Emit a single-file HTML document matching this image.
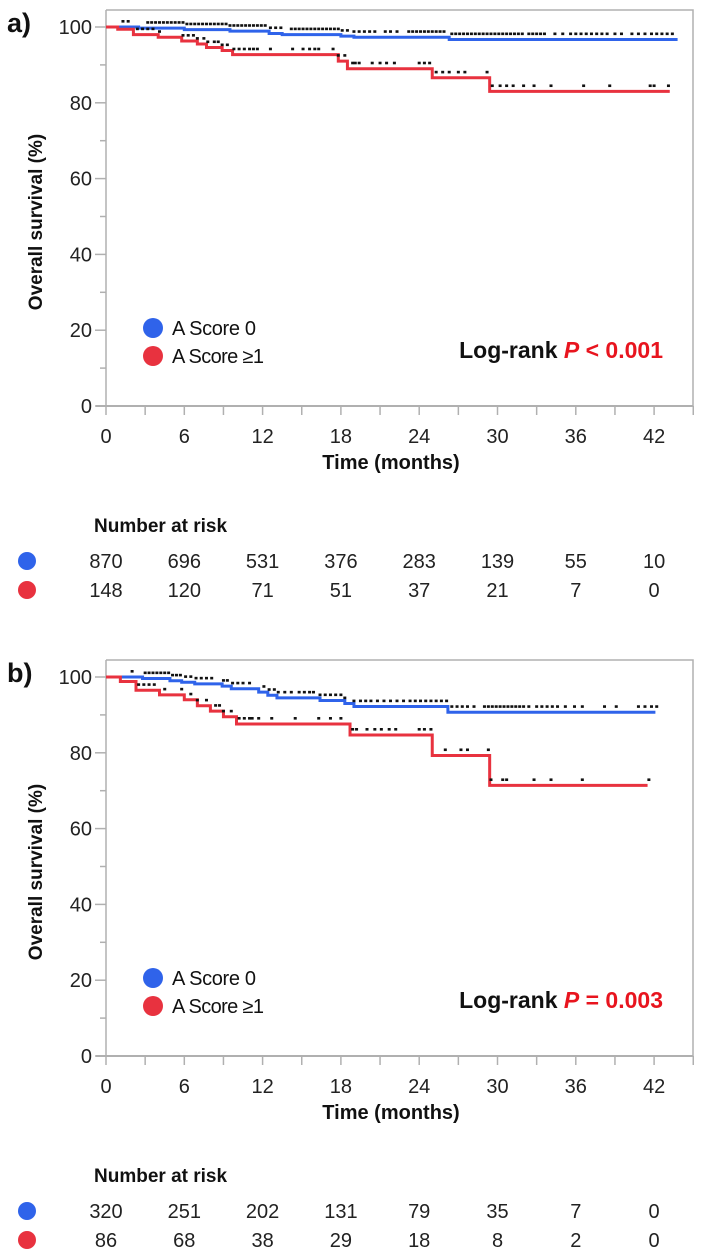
<!DOCTYPE html>
<html><head><meta charset="utf-8">
<style>
html,body{margin:0;padding:0;background:#fff;}
svg{display:block;font-family:"Liberation Sans",Arial,sans-serif;}
.nar{font-family:"Liberation Sans Narrow","Liberation Sans",Arial,sans-serif;}
</style></head>
<body>
<svg id="chart" width="708" height="1252" viewBox="0 0 708 1252" xmlns="http://www.w3.org/2000/svg"></svg>
<script>
// ---------- data ----------
const xTicks = [0, 6, 12, 18, 24, 30, 36, 42];
const yTicks = [0, 20, 40, 60, 80, 100];

// Panel a
const aBlueT = [0, 2.5, 6, 9.5, 12.5, 13.5, 18, 19, 26.3, 43.8];
const aBlueS = [100, 99.7, 99.3, 98.9, 98.3, 98, 97.6, 97.3, 96.7, 96.7];
const aRedT = [0, 0.9, 2.1, 4, 5.8, 7, 7.7, 8.9, 9.7, 17.8, 18.5, 25, 29.4, 43.2];
const aRedS = [100, 99.4, 98, 97.3, 96.3, 95.5, 94.6, 93.8, 92.7, 91, 89, 86.6, 83, 83];
const aBlueCens = [1.3,1.7,3.2,3.5,3.8,4.1,4.4,4.7,5.0,5.3,5.6,5.9,6.2,6.5,6.8,7.1,7.4,7.7,8.0,8.3,8.6,8.9,9.2,9.5,9.8,10.1,10.4,10.7,11.0,11.3,11.6,11.9,12.2,12.6,13.0,13.4,14.2,14.5,14.8,15.1,15.4,15.7,16.0,16.3,16.6,16.9,17.2,17.5,17.8,18.1,18.5,19.0,19.4,19.8,20.2,20.6,21.4,21.8,22.3,23.2,23.5,23.8,24.1,24.4,24.7,25.0,25.3,25.6,25.9,26.5,26.8,27.1,27.4,27.7,28.0,28.3,28.6,28.9,29.2,29.5,29.8,30.1,30.4,30.7,31.0,31.3,31.6,31.9,32.4,32.7,33.0,33.3,33.6,34.4,35.0,35.6,36.0,36.4,36.8,37.2,37.6,38.0,38.4,39.0,39.5,40.3,40.8,41.3,41.8,42.2,42.6,43.0,43.4];
const aRedCens = [2.4,2.8,3.2,3.6,4.1,5.9,6.3,6.7,7.0,7.5,7.8,8.3,8.6,8.9,9.3,9.8,10.2,10.6,11.0,11.3,11.6,12.6,14.3,15.1,15.6,16.0,16.3,17.4,17.8,18.3,18.9,19.1,19.4,20.4,21.0,21.5,22.1,24.0,24.4,24.8,25.3,25.8,26.3,27.0,27.5,29.2,29.6,30.2,30.7,31.2,32.0,32.8,34.1,36.6,38.6,41.7,42.0,43.1];
const aRiskBlue = [870, 696, 531, 376, 283, 139, 55, 10];
const aRiskRed = [148, 120, 71, 51, 37, 21, 7, 0];

// Panel b
const bBlueT = [0, 2.8, 4.9, 5.8, 6.8, 8.9, 9.6, 11.7, 12.4, 13.1, 16.4, 18.3, 19, 26.2, 42.1];
const bBlueS = [100, 99.6, 99, 98.6, 98.2, 97.6, 96.9, 96, 95.2, 94.5, 93.8, 93, 92.2, 90.7, 90.7];
const bRedT = [0, 1.1, 2.3, 4.1, 6, 7, 8, 9, 10, 18.7, 25, 29.4, 41.5];
const bRedS = [100, 98.8, 96.5, 95.3, 94, 92.4, 91, 89.5, 87.6, 84.7, 79.3, 71.4, 71.4];
const bBlueCens = [2.0,3.0,3.3,3.6,3.9,4.2,4.5,4.8,5.1,5.4,5.7,6.1,6.5,6.9,7.3,7.7,8.1,9.0,9.3,9.7,10.1,10.5,11.0,12.1,12.5,12.9,13.2,13.7,14.2,14.8,15.2,15.6,15.9,16.4,16.8,17.2,17.6,18.0,18.3,19.0,19.5,19.9,20.3,20.8,21.3,21.8,22.3,22.8,23.3,23.7,24.1,24.5,24.9,25.3,25.7,26.1,26.5,26.9,27.3,27.7,28.2,29.0,29.3,29.6,29.9,30.2,30.5,30.8,31.1,31.4,31.7,32.0,32.4,33.0,33.4,33.8,34.2,34.6,35.2,35.9,36.5,38.2,39.1,40.8,41.3,41.8,42.2];
const bRedCens = [2.5,2.9,3.3,3.7,4.5,5.8,6.5,7.0,7.7,8.4,8.7,9.0,9.6,10.2,10.6,11.0,11.2,11.7,12.7,14.5,16.3,17.2,18.0,18.9,19.2,20.0,20.6,21.1,21.7,22.2,24.0,24.4,24.9,26.0,27.2,27.7,29.3,29.5,30.4,30.7,32.8,34.1,36.5,41.6];
const bRiskBlue = [320, 251, 202, 131, 79, 35, 7, 0];
const bRiskRed = [86, 68, 38, 29, 18, 8, 2, 0];

// ---------- drawing ----------
const NS = "http://www.w3.org/2000/svg";
const svg = document.getElementById("chart");
const BLUE = "#2f63ea", RED = "#e8323f", AXIS = "#b0b0b0";
const X0 = 106, PXM = 13.05, XMAX = 45;
const xs = t => X0 + t * PXM;

function mk(tag, attrs, parent) {
  const el = document.createElementNS(NS, tag);
  for (const k in attrs) el.setAttribute(k, attrs[k]);
  (parent || svg).appendChild(el);
  return el;
}
function txt(s, attrs, parent) { const el = mk("text", attrs, parent); el.textContent = s; return el; }

function survAt(T, S, t) {
  let v = S[0];
  for (let i = 0; i < T.length; i++) if (T[i] <= t) v = S[i];
  return v;
}

function panel(off, label, blueT, blueS, redT, redS, blueC, redC, pText, riskB, riskR) {
  const g = mk("g", {});
  
  
  const ys = v => off + 406 - v * 3.79;

  const pl = txt(label + ")", {x: 7, y: off + 32, "font-size": 27, "font-weight": "bold", fill: "#111"}, g);
  
  

  const frame = mk("path", {d: `M${X0} ${off+10} H693 V${off+406} M${X0} ${off+10} V${off+406}`, stroke: AXIS, "stroke-width": 1.5, fill: "none"}, g);
  
  
  const xa = mk("line", {x1: 96, x2: 693, y1: ys(0), y2: ys(0), stroke: AXIS, "stroke-width": 2}, g);
  
  

  for (let v = 0; v <= 100; v += 10) {
    const major = v % 20 === 0;
    const t = mk("line", {x1: major ? 95 : 100, x2: X0, y1: ys(v), y2: ys(v), stroke: AXIS, "stroke-width": 1.5}, g);
    
    
  }
  yTicks.forEach(v => {
    const l = txt(String(v), {x: 92, y: ys(v) + 7, "font-size": 20, "text-anchor": "end", fill: "#222", class: "nar"}, g);
    
    
  });
  for (let m = 0; m <= XMAX; m += 3) {
    const t = mk("line", {x1: xs(m), x2: xs(m), y1: ys(0), y2: ys(0) + 9, stroke: AXIS, "stroke-width": 1.5}, g);
    
    
  }
  xTicks.forEach(m => {
    const l = txt(String(m), {x: xs(m), y: off + 443, "font-size": 20, "text-anchor": "middle", fill: "#222", class: "nar"}, g);
    
    
  });
  const xt = txt("Time (months)", {x: 391, y: off + 469, "font-size": 20, "font-weight": "bold", "text-anchor": "middle", fill: "#111", class: "nar"}, g);
  
  
  const yt = txt("Overall survival (%)", {x: 0, y: 0, "font-size": 19, "font-weight": "bold", "text-anchor": "middle", fill: "#111", transform: `translate(42 ${off+222}) rotate(-90)`}, g);
  
  

  function curve(T, S, color, name) {
    let d = `M${xs(T[0])} ${ys(S[0])}`;
    for (let i = 1; i < T.length; i++) {
      d += ` H${xs(T[i])} V${ys(S[i])}`;
    }
    const p = mk("path", {d, stroke: color, "stroke-width": 3, fill: "none"}, g);
    
    
  }
  function censor(C, T, S, name) {
    C.forEach(t => {
      const v = survAt(T, S, t) + 1.5;
      const r = mk("rect", {x: xs(t) - 1.5, y: ys(v) - 1.3, width: 3, height: 2.6, fill: "#111"}, g);
      
      
    });
  }
  curve(blueT, blueS, BLUE, "curve-a-score-0");
  curve(redT, redS, RED, "curve-a-score-1-plus");
  censor(blueC, blueT, blueS, "censor-mark-a-score-0");
  censor(redC, redT, redS, "censor-mark-a-score-1-plus");

  const l1 = mk("circle", {cx: 153, cy: off + 328, r: 10, fill: BLUE}, g);
  
  
  const t1 = txt("A Score 0", {x: 172, y: off + 335, "font-size": 20, fill: "#111", textLength: 84, class: "nar"}, g);
  
  
  const l2 = mk("circle", {cx: 153, cy: off + 356, r: 10, fill: RED}, g);
  
  
  const t2 = txt("A Score \u22651", {x: 172, y: off + 363, "font-size": 20, fill: "#111", textLength: 92, class: "nar"}, g);
  
  

  const lr = txt("", {x: 663, y: off + 358, "font-size": 23, "font-weight": "bold", "text-anchor": "end", fill: "#111", class: "nar"}, g);
  
  
  const s1 = mk("tspan", {}, lr); s1.textContent = "Log-rank ";
  const s2 = mk("tspan", {fill: "#e8141e", "font-style": "italic"}, lr); s2.textContent = "P";
  const s3 = mk("tspan", {fill: "#e8141e"}, lr); s3.textContent = pText;

  const rt = txt("Number at risk", {x: 94, y: off + 532, "font-size": 19, "font-weight": "bold", fill: "#111", class: "nar"}, g);
  
  
  [[riskB, BLUE, 568, "risk-a-score-0"], [riskR, RED, 597, "risk-a-score-1-plus"]].forEach(([arr, col, by, nm]) => {
    const c = mk("circle", {cx: 27, cy: off + by - 7, r: 9, fill: col}, g);
    
    
    arr.forEach((n, i) => {
      const t = txt(String(n), {x: xs(xTicks[i]), y: off + by, "font-size": 20, "text-anchor": "middle", fill: "#222", class: "nar"}, g);
      
      
    });
  });
}

panel(0, "a", aBlueT, aBlueS, aRedT, aRedS, aBlueCens, aRedCens, " < 0.001", aRiskBlue, aRiskRed);
panel(650, "b", bBlueT, bBlueS, bRedT, bRedS, bBlueCens, bRedCens, " = 0.003", bRiskBlue, bRiskRed);
</script>
</body></html>
